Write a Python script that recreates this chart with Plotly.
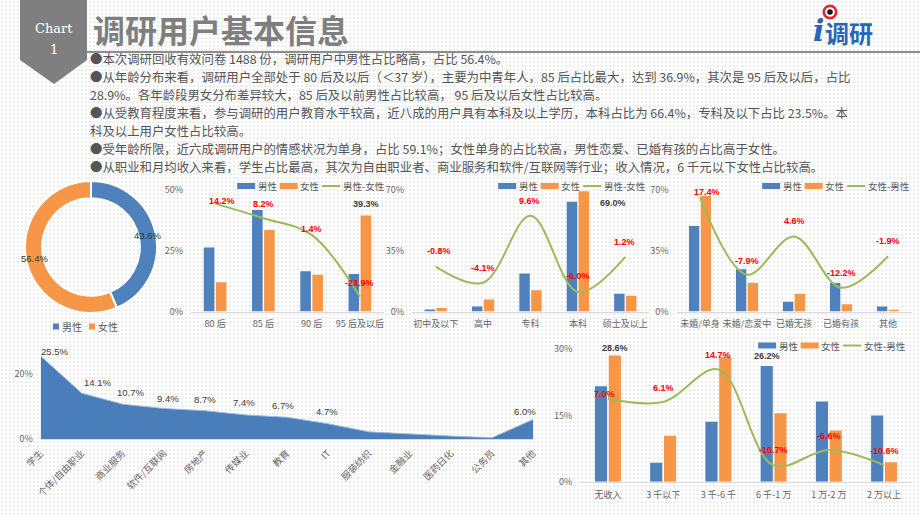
import math
import plotly.graph_objects as go

W, H = 920, 518


def px(x):
    return x / W


def py(y):
    return 1 - y / H


# ---------------- data ----------------
gender_labels = ["男性", "女性"]
gender_share = [43.6, 56.4]

age_cats = ["80 后", "85 后", "90 后", "95 后及以后"]
age_male = [26.2, 41.6, 16.5, 15.4]
age_female = [12.0, 33.4, 15.1, 39.3]
age_diff = [14.2, 8.2, 1.4, -23.9]          # 男性-女性

edu_cats = ["初中及以下", "高中", "专科", "本科", "硕士及以上"]
edu_male = [1.2, 2.8, 21.8, 63.0, 10.2]
edu_female = [2.0, 6.9, 12.2, 69.0, 9.0]
edu_diff = [-0.8, -4.1, 9.6, -6.0, 1.2]     # 男性-女性

mar_cats = ["未婚/单身", "未婚/恋爱中", "已婚无孩", "已婚有孩", "其他"]
mar_male = [49.0, 24.2, 5.6, 16.4, 2.9]
mar_female = [66.4, 16.3, 10.2, 4.2, 1.0]
mar_diff = [17.4, -7.9, 4.6, -12.2, -1.9]   # 女性-男性

job_cats = ["学生", "个体/自由职业", "商业服务", "软件/互联网", "房地产", "传媒业",
            "教育", "IT", "服装纺织", "金融业", "医药日化", "公务员", "其他"]
job_share = [25.5, 14.1, 10.7, 9.4, 8.7, 7.4, 6.7, 4.7, 2.2, 1.5, 0.9, 0.4, 6.0]
job_labeled = [True] * 8 + [False] * 4 + [True]

inc_cats = ["无收入", "3 千以下", "3 千-6 千", "6 千-1 万", "1 万-2 万", "2 万以上"]
inc_male = [21.6, 4.3, 13.6, 26.2, 18.2, 15.0]
inc_female = [28.6, 10.4, 28.3, 15.5, 11.6, 4.4]
inc_diff = [7.0, 6.1, 14.7, -10.7, -6.6, -10.6]  # 女性-男性

body_lines = [
    "●本次调研回收有效问卷 1488 份，调研用户中男性占比略高，占比 56.4%。",
    "●从年龄分布来看，调研用户全部处于 80 后及以后（＜37 岁），主要为中青年人，85 后占比最大，达到 36.9%，其次是 95 后及以后，占比",
    "28.9%。各年龄段男女分布差异较大，85 后及以前男性占比较高， 95 后及以后女性占比较高。",
    "●从受教育程度来看，参与调研的用户教育水平较高，近八成的用户具有本科及以上学历，本科占比为 66.4%，专科及以下占比 23.5%。本",
    "科及以上用户女性占比较高。",
    "●受年龄所限，近六成调研用户的情感状况为单身，占比 59.1%；女性单身的占比较高，男性恋爱、已婚有孩的占比高于女性。",
    "●从职业和月均收入来看，学生占比最高，其次为自由职业者、商业服务和软件/互联网等行业；收入情况，6 千元以下女性占比较高。",
]

# ---------------- style ----------------
BLUE = "#4f81bd"
ORANGE = "#f79646"
GREEN = "#9bbb59"
RED = "#ff0000"
GREY = "#7f7f7f"
FONT = "Noto Sans CJK SC, Noto Sans, sans-serif"
NUMFONT = "Liberation Sans, Arial, sans-serif"
TICKFONT = dict(family=FONT, size=9, color="#666666")

# label nudges in pixels (style only): (dx list, dy list)
age_lbl_off = ([7, 0, 0, 0], [3, 14, 6, 14])
edu_lbl_off = ([3, 0, -1, 0, -1], [16, 15, 15, 16, 15])
mar_lbl_off = ([7, 0, 0, 0, 0], [5, 14, 15, 15, 15])
inc_lbl_off = ([-3, 0, 0, 0, 0, 0], [4, 14, 14, 15, 14, 14])
job_lbl_off = ([14, 16, 8, 4, 0, -2, -4, -1, 0, 0, 0, 0, -8],
               [5, 11, 12, 10, 11, 12, 12, 12, 0, 0, 0, 0, 8])

fig = go.Figure()
annotations = []
shapes = []

# dotted background
fig.add_trace(go.Scatter(
    x=[0, 1, 1, 0, 0], y=[0, 0, 1, 1, 0], xaxis="x", yaxis="y",
    fill="toself", mode="none", fillcolor="white",
    fillpattern=dict(shape=".", size=4, solidity=0.15, fgcolor="#dadada", bgcolor="white"),
    hoverinfo="skip", showlegend=False))


def bar_combo(xa, ya, ya2, cats, male, female, diff, off):
    fig.add_trace(go.Bar(x=cats, y=male, name="男性", marker_color=BLUE,
                         xaxis=xa, yaxis=ya, showlegend=False))
    fig.add_trace(go.Bar(x=cats, y=female, name="女性", marker_color=ORANGE,
                         xaxis=xa, yaxis=ya, showlegend=False))
    fig.add_trace(go.Scatter(
        x=cats, y=diff, xaxis=xa, yaxis=ya2, mode="lines",
        line=dict(color=GREEN, width=2, shape="spline", smoothing=1),
        cliponaxis=False, showlegend=False, hoverinfo="skip"))
    for c, v, dx, dy in zip(cats, diff, off[0], off[1]):
        annotations.append(dict(
            x=c, y=v, xref=xa, yref=ya2, text=f"<b>{v:.1f}%</b>", showarrow=False,
            xanchor="center", yanchor="middle", xshift=dx, yshift=dy,
            font=dict(family=NUMFONT, size=9, color=RED)))


bar_combo("x2", "y2", "y3", age_cats, age_male, age_female, age_diff, age_lbl_off)
bar_combo("x3", "y4", "y5", edu_cats, edu_male, edu_female, edu_diff, edu_lbl_off)
bar_combo("x4", "y6", "y7", mar_cats, mar_male, mar_female, mar_diff, mar_lbl_off)
bar_combo("x6", "y9", "y10", inc_cats, inc_male, inc_female, inc_diff, inc_lbl_off)

# occupation area
fig.add_trace(go.Scatter(
    x=job_cats, y=job_share, xaxis="x5", yaxis="y8", mode="lines",
    fill="tozeroy", fillcolor="#4a7ebb", line=dict(color="#9dbbe0", width=1),
    cliponaxis=False, showlegend=False, hoverinfo="skip"))
for c, v, lab, dx, dy in zip(job_cats, job_share, job_labeled, job_lbl_off[0], job_lbl_off[1]):
    if lab:
        annotations.append(dict(
            x=c, y=v, xref="x5", yref="y8", text=f"{v:.1f}%", showarrow=False,
            xanchor="center", yanchor="middle", xshift=dx, yshift=dy,
            font=dict(family=NUMFONT, size=9.5, color="#404040")))

# donut
PIE_CX, PIE_CY, PIE_R, PIE_HOLE = 91, 247, 66, 0.74
fig.add_trace(go.Pie(
    labels=gender_labels, values=gender_share, hole=PIE_HOLE, sort=False,
    direction="clockwise", rotation=0,
    marker=dict(colors=[BLUE, ORANGE], line=dict(color="white", width=2)),
    textinfo="none", hoverinfo="skip", showlegend=False,
    domain=dict(x=[px(PIE_CX - PIE_R), px(PIE_CX + PIE_R)],
                y=[py(PIE_CY + PIE_R), py(PIE_CY - PIE_R)])))

# donut labels at mid-ring of each slice
tot = sum(gender_share)
cum = 0
rmid = PIE_R * (1 + PIE_HOLE) / 2
for v in gender_share:
    ang = 2 * math.pi * (cum + v / 2) / tot
    cum += v
    annotations.append(dict(
        x=px(PIE_CX + rmid * math.sin(ang)), y=py(PIE_CY - rmid * math.cos(ang)),
        xref="paper", yref="paper", xanchor="center", yanchor="middle",
        text=f"{v:.1f}%", showarrow=False,
        font=dict(family=NUMFONT, size=9.5, color="#333333")))


def yax(top, bot, rng, dtick, anchor):
    return dict(domain=[py(bot), py(top)], range=rng, dtick=dtick, ticksuffix="%",
                showgrid=False, zeroline=False, showline=False, ticks="",
                tickfont=TICKFONT, anchor=anchor, ticklabelstandoff=7, fixedrange=True)


def xax(l, r, anchor, **kw):
    d = dict(domain=[px(l), px(r)], anchor=anchor, type="category", showgrid=False,
             zeroline=False, showline=True, linecolor="#d9d9d9", linewidth=1,
             ticks="", tickfont=TICKFONT, tickangle=0, ticklabelstandoff=4,
             fixedrange=True)
    d.update(kw)
    return d


def yover(over, rng, anchor):
    return dict(overlaying=over, range=rng, visible=False, anchor=anchor,
                showgrid=False, zeroline=False, fixedrange=True)


layout_axes = dict(
    xaxis=dict(domain=[0, 1], range=[0, 1], visible=False, fixedrange=True),
    yaxis=dict(domain=[0, 1], range=[0, 1], visible=False, fixedrange=True),
    xaxis2=xax(191, 384, "y2"),
    yaxis2=yax(189.5, 311.5, [0, 50], 25, "x2"),
    yaxis3=yover("y2", [-30, 20], "x2"),
    xaxis3=xax(412, 649, "y4"),
    yaxis4=yax(189.5, 311.5, [0, 70], 35, "x3"),
    yaxis5=yover("y4", [-10, 15], "x3"),
    xaxis4=xax(676.5, 911.5, "y6"),
    yaxis6=yax(189.5, 311.5, [0, 70], 35, "x4"),
    yaxis7=yover("y6", [-20, 20], "x4"),
    xaxis5=xax(40.7, 533, "y8", range=[0, len(job_cats) - 1], tickangle=-45,
               tickfont=dict(family=FONT, size=9.5, color="#666666")),
    yaxis8=yax(341.5, 439, [0, 30], 20, "x5"),
    xaxis6=xax(580.3, 911.7, "y9"),
    yaxis9=yax(349.3, 481.7, [0, 30], 15, "x6"),
    yaxis10=yover("y9", [-15, 20], "x6"),
)

# highlighted values (dark labels on bars)
highlights = [
    ("x2", "y2", age_cats[3], age_female[3], 6, 5, "bottom"),
    ("x3", "y4", edu_cats[3], edu_female[3], 35, -12, "middle"),
    ("x6", "y9", inc_cats[0], inc_female[0], 7, 0, "bottom"),
    ("x6", "y9", inc_cats[3], inc_male[3], -7, 3, "bottom"),
]
for xr, yr, xc, yv, xs, ys, ya in highlights:
    annotations.append(dict(x=xc, y=yv, xref=xr, yref=yr, text=f"<b>{yv:.1f}%</b>",
                            showarrow=False, xshift=xs, yshift=ys, xanchor="center", yanchor=ya,
                            font=dict(family=NUMFONT, size=9, color="#404040")))


# ---------------- manual legends ----------------
def est_w(s, fs):
    w = 0
    for ch in s:
        if ord(ch) > 0x2E80:
            w += fs
        elif ch in "-/":
            w += 0.35 * fs
        else:
            w += 0.55 * fs
    return w


def add_legend(yc, items, x_right=None, x_left=None, fs=9.5, sw=18, sh=6, tgap=1.5, igap=4):
    widths = [est_w(lbl, fs) for _, _, lbl in items]
    total = sum(sw + tgap + w for w in widths) + igap * (len(items) - 1)
    x = x_left if x_left is not None else x_right - total
    for (kind, color, lbl), w in zip(items, widths):
        if kind == "rect":
            shapes.append(dict(type="rect", xref="paper", yref="paper",
                               x0=px(x), x1=px(x + sw), y0=py(yc + sh / 2), y1=py(yc - sh / 2),
                               fillcolor=color, line=dict(width=0), layer="above"))
        else:
            shapes.append(dict(type="line", xref="paper", yref="paper",
                               x0=px(x), x1=px(x + sw), y0=py(yc), y1=py(yc),
                               line=dict(color=color, width=2), layer="above"))
        annotations.append(dict(x=px(x + sw + tgap), y=py(yc), xref="paper", yref="paper",
                                xanchor="left", yanchor="middle", text=lbl, showarrow=False,
                                borderpad=0, font=dict(family=FONT, size=fs, color="#595959")))
        x += sw + tgap + w + igap


add_legend(186, [("rect", BLUE, "男性"), ("rect", ORANGE, "女性"), ("line", GREEN, "男性-女性")], x_right=383)
add_legend(186, [("rect", BLUE, "男性"), ("rect", ORANGE, "女性"), ("line", GREEN, "男性-女性")], x_right=644)
add_legend(186, [("rect", BLUE, "男性"), ("rect", ORANGE, "女性"), ("line", GREEN, "女性-男性")], x_right=908)
add_legend(345.5, [("rect", BLUE, "男性"), ("rect", ORANGE, "女性"), ("line", GREEN, "女性-男性")], x_right=904)
add_legend(326.5, [("rect", BLUE, "男性"), ("rect", ORANGE, "女性")], x_left=53,
           fs=10, sw=6, sh=6, tgap=2, igap=8)

# ---------------- header ----------------
shapes.append(dict(type="path", xref="paper", yref="paper", layer="above",
                   path=(f"M {px(20)},{py(0)} L {px(87)},{py(0)} L {px(87)},{py(60)} "
                         f"L {px(54)},{py(84)} L {px(20)},{py(60)} Z"),
                   fillcolor=GREY, line=dict(width=0)))
shapes.append(dict(type="line", xref="paper", yref="paper", layer="above",
                   x0=px(87), x1=1, y0=py(52), y1=py(52),
                   line=dict(color="#8c8c8c", width=2)))
# logo eye
for r, c in [(7.5, "#e3262b"), (4.8, "white"), (2.8, "#1a1a1a")]:
    shapes.append(dict(type="circle", xref="paper", yref="paper", layer="above",
                       x0=px(830 - r), x1=px(830 + r), y0=py(12 + r), y1=py(12 - r),
                       fillcolor=c, line=dict(width=0)))


def ptext(x, y, text, font, xa="center", ya="middle", align="left"):
    annotations.append(dict(x=px(x), y=py(y), xref="paper", yref="paper", xanchor=xa,
                            yanchor=ya, text=text, showarrow=False, borderpad=0, font=font,
                            align=align))


ptext(54, 28, "Chart", dict(family="DejaVu Serif, serif", size=13, color="white"))
ptext(54, 49, "1", dict(family="DejaVu Serif, serif", size=13, color="white"))
ptext(92, 29, "<b>调研用户基本信息</b>", dict(family=FONT, size=32, color=GREY), xa="left")
ptext(818, 31, "<b><i>i</i></b>", dict(family="DejaVu Serif, serif", size=30, color="#2566b8"))
ptext(824, 33, "<b>调研</b>", dict(family=FONT, size=24, color="#2566b8"), xa="left")

# body text: one annotation per line, spaced so the lines do not overlap
BODY_SIZE = 12.4
BODY_STEP = 18.0
for i, txt in enumerate(body_lines):
    ptext(89, 59 + i * BODY_STEP, txt, dict(family=FONT, size=BODY_SIZE, color="#555555"),
          xa="left")

fig.update_layout(
    width=W, height=H, autosize=False, template="none",
    margin=dict(l=0, r=0, t=0, b=0),
    paper_bgcolor="white", plot_bgcolor="rgba(0,0,0,0)",
    barmode="group", bargap=0.5, bargroupgap=0.12, showlegend=False,
    font=dict(family=FONT, color="#595959"),
    annotations=annotations, shapes=shapes, **layout_axes)

fig.write_html("out.html", config={"displayModeBar": False, "staticPlot": True},
               post_script="document.body.style.margin='0';document.body.style.padding='0';")
